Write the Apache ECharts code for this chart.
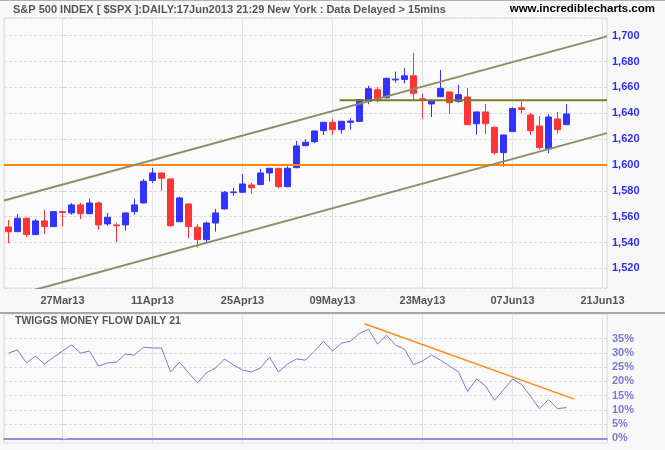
<!DOCTYPE html>
<html><head><meta charset="utf-8">
<script src="https://cdn.jsdelivr.net/npm/echarts@6/dist/echarts.min.js"></script>
<style>html,body{margin:0;padding:0;background:#f8f8f8}#c{width:665px;height:450px}</style>
</head><body><div id="c"></div>
<script>
// Trading-day categories (last four are empty future days on the axis)
const dates = ['19Mar13','20Mar13','21Mar13','22Mar13','25Mar13','26Mar13','27Mar13','28Mar13',
 '01Apr13','02Apr13','03Apr13','04Apr13','05Apr13','08Apr13','09Apr13','10Apr13','11Apr13','12Apr13',
 '15Apr13','16Apr13','17Apr13','18Apr13','19Apr13','22Apr13','23Apr13','24Apr13','25Apr13','26Apr13',
 '29Apr13','30Apr13','01May13','02May13','03May13','06May13','07May13','08May13','09May13','10May13',
 '13May13','14May13','15May13','16May13','17May13','20May13','21May13','22May13','23May13','24May13',
 '28May13','29May13','30May13','31May13','03Jun13','04Jun13','05Jun13','06Jun13','07Jun13','10Jun13',
 '11Jun13','12Jun13','13Jun13','14Jun13','17Jun13','18Jun13','19Jun13','20Jun13','21Jun13'];

const open  = [1552.0,1548.4,1558.8,1546.1,1556.7,1552.3,1563.9,1562.9,1569.1,1562.3,1570.6,1554.4,1553.6,1553.6,1563.9,1570.6,1587.9,1593.8,1589.2,1556.1,1569.8,1551.8,1542.2,1555.1,1566.0,1578.6,1578.9,1584.5,1584.8,1593.8,1597.4,1583.2,1597.9,1614.9,1618.0,1626.5,1633.0,1627.3,1633.0,1633.7,1649.2,1658.2,1652.0,1665.8,1666.2,1669.0,1651.2,1647.2,1652.8,1656.5,1649.2,1652.6,1631.9,1641.0,1629.2,1609.5,1625.8,1644.2,1638.7,1630.2,1612.4,1635.6,1631.2];
const high  = [1557.4,1562.1,1559.2,1558.2,1565.2,1564.4,1564.2,1570.6,1570.6,1573.7,1571.6,1562.9,1555.1,1563.2,1573.7,1589.2,1597.7,1594.0,1589.5,1575.5,1570.1,1554.1,1556.1,1566.0,1579.9,1582.2,1593.0,1586.1,1596.9,1597.6,1597.6,1599.0,1618.6,1619.9,1626.5,1633.2,1635.6,1634.0,1636.2,1650.8,1661.3,1660.3,1667.5,1672.2,1674.9,1686.7,1655.2,1650.0,1673.5,1656.8,1662.1,1659.6,1641.2,1647.2,1629.5,1623.5,1644.6,1649.0,1640.2,1637.9,1639.5,1641.0,1647.2];
const low   = [1539.4,1548.0,1544.1,1545.8,1546.6,1552.0,1552.3,1561.5,1558.2,1562.0,1549.9,1553.0,1540.2,1549.2,1561.5,1570.2,1586.1,1580.1,1552.3,1555.8,1543.3,1536.0,1539.4,1548.4,1565.6,1576.2,1578.5,1577.6,1584.4,1587.1,1582.0,1582.7,1597.5,1614.5,1617.0,1623.2,1623.2,1624.2,1627.3,1633.5,1647.0,1648.4,1651.5,1663.7,1663.1,1649.7,1635.6,1637.1,1652.5,1639.4,1648.2,1631.0,1623.4,1624.0,1608.0,1598.7,1625.5,1640.0,1623.2,1611.8,1609.1,1624.2,1630.9];
const close = [1548.4,1558.8,1546.1,1556.7,1552.3,1563.9,1563.2,1569.1,1562.3,1570.6,1553.6,1559.5,1553.0,1562.9,1569.1,1587.4,1593.8,1589.7,1553.0,1574.5,1552.3,1542.2,1555.1,1562.9,1578.9,1579.1,1585.3,1582.4,1593.8,1597.4,1583.2,1597.4,1614.7,1617.6,1626.3,1633.0,1627.3,1633.8,1634.0,1650.5,1659.0,1650.5,1667.0,1666.4,1669.0,1655.4,1650.6,1649.7,1659.3,1648.2,1654.4,1631.2,1641.0,1631.9,1609.5,1623.2,1643.6,1642.9,1626.5,1613.4,1637.1,1627.3,1639.5];

// Twiggs Money Flow (21), percent
const tmf = [30.2,31.3,26.7,29.1,26.3,28.7,30.9,33.1,30.2,30.9,25.6,26.7,27.0,29.8,29.5,32.3,32.0,32.0,23.5,27.0,23.2,19.7,23.2,24.9,28.1,26.0,24.2,23.5,24.9,28.8,23.5,26.3,28.1,27.7,30.9,34.4,30.9,33.7,34.4,37.2,38.6,33.4,36.5,33.0,31.6,26.1,27.4,29.5,27.7,25.6,23.5,16.6,21.0,18.6,13.5,17.2,21.0,19.1,14.9,10.5,13.7,10.5,10.9];

// Trend lines: [trading days from 27Mar13, value]
const upperChannel = [[-6.5,1572.5],[60.5,1699.5]];
const lowerChannel = [[-6.5,1496.9],[60.5,1624.6]];
const resistance   = [[30.8,1650],[60.5,1650]];
const support      = [[-6.5,1600],[60.5,1600]];
const tmfTrend     = [[33.56,40.6],[56.86,13.9]];

const priceTicks = {min:1504.8, max:1713.7, step:20};
const tmfTicks = {min:0, max:35, step:5};

const FONT = 'Liberation Sans, Arial, sans-serif';
const chart = echarts.init(document.getElementById('c'), null, {renderer:'canvas'});
const ohlc = open.map((o,i)=>[o, close[i], low[i], high[i]]);
const vgrid = {show:true, lineStyle:{color:'#e3e3e3', width:1}};
const hgrid = {show:true, lineStyle:{color:'#dcdcdc', type:[3,2], width:1}};

chart.setOption({
  animation:false,
  backgroundColor:'#f8f8f8',
  title:[
    {text:'S&P 500 INDEX [ $SPX ]:DAILY:17Jun2013 21:29 New York : Data Delayed > 15mins', left:13, top:4, padding:0,
     textStyle:{fontSize:11, fontWeight:'bold', color:'#555', fontFamily:FONT}},
    {text:'www.incrediblecharts.com', right:10, top:3, padding:0,
     textStyle:{fontSize:11.5, fontWeight:'bold', color:'#000', fontFamily:FONT}},
    {text:'TWIGGS MONEY FLOW DAILY 21', left:15, top:316, padding:0,
     textStyle:{fontSize:10.5, fontWeight:'bold', color:'#555', fontFamily:FONT}}
  ],
  graphic:[
    {type:'line', shape:{x1:0,y1:0.5,x2:665,y2:0.5}, style:{stroke:'#b0b0b0', lineWidth:1}, silent:true},
    {type:'line', shape:{x1:0,y1:313,x2:665,y2:313}, style:{stroke:'#a8a8a8', lineWidth:2}, silent:true}
  ],
  grid:[
    {left:4, top:18, width:603, height:270, show:true, backgroundColor:'#fafafa', borderColor:'#dedede', borderWidth:1},
    {left:4, top:314, width:603, height:129, show:true, backgroundColor:'#fafafa', borderColor:'#dedede', borderWidth:1},
    {left:4, top:338.7, width:603, height:99.6, show:false}
  ],
  xAxis:[
    {gridIndex:0, type:'category', data:dates, boundaryGap:true, show:false},
    {gridIndex:0, type:'value', min:-6.5, max:60.5, minInterval:10, maxInterval:10, position:'bottom',
     axisLine:{show:false}, axisTick:{show:false}, splitLine:vgrid,
     axisLabel:{margin:7, color:'#555', fontWeight:'bold', fontSize:11, fontFamily:FONT,
       formatter:v=>{const r=Math.round(v); return (Math.abs(v-r)<1e-6 && r%10===0) ? dates[r+6] : '';}}},
    {gridIndex:1, type:'category', data:dates, boundaryGap:true, show:false},
    {gridIndex:1, type:'value', min:-6.5, max:60.5, minInterval:10, maxInterval:10,
     axisLine:{show:false}, axisTick:{show:false}, axisLabel:{show:false}, splitLine:vgrid},
    {gridIndex:2, type:'value', min:-6.5, max:60.5, axisTick:{show:false}, axisLabel:{show:false}, splitLine:{show:false},
     axisLine:{show:true, lineStyle:{color:'#7070d8', width:1.5}}}
  ],
  yAxis:[
    {gridIndex:0, type:'value', position:'right', min:priceTicks.min, max:priceTicks.max,
     minInterval:priceTicks.step, maxInterval:priceTicks.step, scale:true,
     axisLine:{show:false}, axisTick:{show:true, length:4, lineStyle:{color:'#cfcfcf'}}, splitLine:hgrid,
     axisLabel:{margin:5, color:'#2f2fee', fontWeight:'bold', fontSize:11, fontFamily:FONT,
       formatter:v=>{const r=Math.round(v); return (Math.abs(v-r)<1e-6 && r%20===0) ? r.toLocaleString('en-US') : '';}}},
    {gridIndex:1, type:'value', min:-1.65, max:44.03, show:false},
    {gridIndex:2, type:'value', position:'right', min:tmfTicks.min, max:tmfTicks.max, interval:tmfTicks.step,
     axisLine:{show:false}, axisTick:{show:true, length:4, lineStyle:{color:'#cfcfcf'}}, splitLine:hgrid,
     axisLabel:{margin:5, color:'#7a7ad2', fontWeight:'bold', fontSize:11, fontFamily:FONT, formatter:'{value}%'}}
  ],
  series:[
    {type:'candlestick', xAxisIndex:0, yAxisIndex:0, data:ohlc, barWidth:7, silent:true,
     itemStyle:{color:'#3333ff', color0:'#ff3535', borderColor:'#3333ff', borderColor0:'#ff3535', borderWidth:1}},
    {type:'line', xAxisIndex:1, yAxisIndex:0, data:support, showSymbol:false, silent:true,
     lineStyle:{color:'#ff8800', width:2}},
    {type:'line', xAxisIndex:1, yAxisIndex:0, data:upperChannel, showSymbol:false, silent:true,
     lineStyle:{color:'#8e8e66', width:2}},
    {type:'line', xAxisIndex:1, yAxisIndex:0, data:lowerChannel, showSymbol:false, silent:true,
     lineStyle:{color:'#8e8e66', width:2}},
    {type:'line', xAxisIndex:1, yAxisIndex:0, data:resistance, showSymbol:false, silent:true,
     lineStyle:{color:'#7c7c28', width:2}},
    {type:'line', xAxisIndex:2, yAxisIndex:1, data:tmf, showSymbol:false, silent:true,
     lineStyle:{color:'#7c7cce', width:1}},
    {type:'line', xAxisIndex:3, yAxisIndex:1, data:tmfTrend, showSymbol:false, silent:true,
     lineStyle:{color:'#ff8c1a', width:1.5}}
  ]
});
</script></body></html>
